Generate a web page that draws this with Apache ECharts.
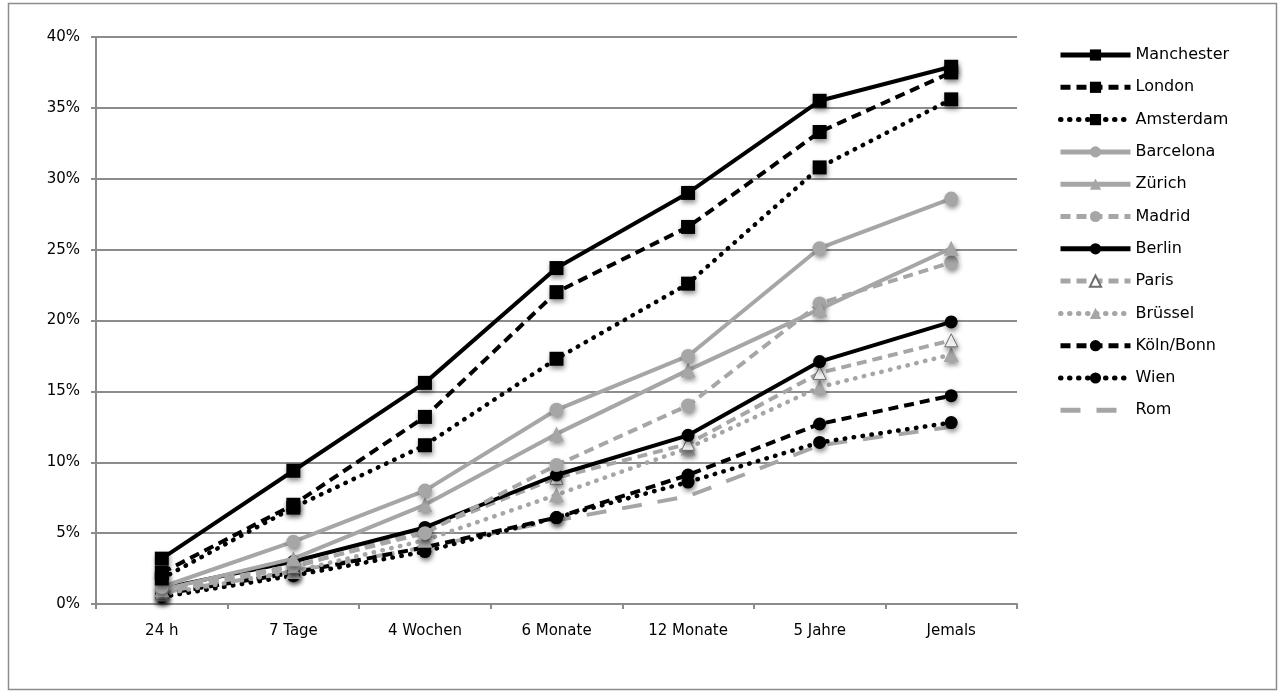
<!DOCTYPE html>
<html>
<head>
<meta charset="utf-8">
<script src="https://cdn.jsdelivr.net/npm/echarts@6/dist/echarts.min.js"></script>
<style>
  html, body { margin: 0; padding: 0; background: #fff; }
  #chart { width: 1281px; height: 695px; }
</style>
</head>
<body>
<div id="chart"></div>
<script>
// Zeiträume (x-Achse)
const categories = ['24 h', '7 Tage', '4 Wochen', '6 Monate', '12 Monate', '5 Jahre', 'Jemals'];

// Anteile in Prozent je Stadt
const manchester = [3.2, 9.4, 15.6, 23.7, 29.0, 35.5, 37.9];
const london     = [2.2, 7.0, 13.2, 22.0, 26.6, 33.3, 37.5];
const amsterdam  = [1.8, 6.8, 11.2, 17.3, 22.6, 30.8, 35.6];
const barcelona  = [1.2, 4.4, 8.0, 13.7, 17.5, 25.1, 28.6];
const zuerich    = [1.0, 3.2, 7.0, 12.0, 16.5, 20.8, 25.1];
const madrid     = [1.0, 2.7, 5.0, 9.8, 14.0, 21.2, 24.1];
const berlin     = [1.1, 3.0, 5.4, 9.1, 11.9, 17.1, 19.9];
const paris      = [0.8, 2.6, 5.2, 8.9, 11.3, 16.3, 18.6];
const bruessel   = [0.7, 2.3, 4.5, 7.7, 11.0, 15.3, 17.6];
const koelnBonn  = [0.7, 2.2, 4.0, 6.1, 9.1, 12.7, 14.7];
const wien       = [0.5, 2.0, 3.7, 6.1, 8.6, 11.4, 12.8];
const rom        = [0.8, 2.3, 4.0, 5.9, 7.6, 11.2, 12.5];

// y-Achse
const yTicks = [0, 5, 10, 15, 20, 25, 30, 35, 40];

const BLACK = '#000000';
const GREY = '#a6a6a6';
const FONT = '"DejaVu Sans", "Liberation Sans", sans-serif';

// Linienmuster
const SOLID = 'solid';
const DASH = [10, 6];
const DOT = [0.5, 8.5];
const LONG_DASH = [20, 16];

const markerShadow = {
  shadowBlur: 5,
  shadowOffsetX: 1,
  shadowOffsetY: 3,
  shadowColor: 'rgba(0,0,0,0.45)'
};

function makeSeries(name, data, color, dash, symbol, symbolSize, opts) {
  opts = opts || {};
  const dotted = dash === DOT;
  return {
    name: name,
    type: 'line',
    data: data,
    symbol: symbol,
    symbolSize: symbolSize,
    showSymbol: !opts.noMarker,
    z: opts.z || 2,
    lineStyle: {
      color: color,
      width: dotted ? 4.5 : 4,
      type: dash,
      cap: dotted ? 'round' : 'butt'
    },
    itemStyle: Object.assign({
      color: opts.fill || color,
      borderColor: opts.border || color,
      borderWidth: opts.borderWidth || 0,
      opacity: opts.noMarker ? 0 : 1
    }, markerShadow),
    emphasis: { disabled: true },
    animation: false
  };
}

const series = [
  makeSeries('Manchester', manchester, BLACK, SOLID, 'rect', 14, { z: 12 }),
  makeSeries('London', london, BLACK, DASH, 'rect', 14, { z: 11 }),
  makeSeries('Amsterdam', amsterdam, BLACK, DOT, 'rect', 14, { z: 10 }),
  makeSeries('Barcelona', barcelona, GREY, SOLID, 'circle', 14, { z: 9 }),
  makeSeries('Zürich', zuerich, GREY, SOLID, 'triangle', 15, { z: 8 }),
  makeSeries('Madrid', madrid, GREY, DASH, 'circle', 14, { z: 7 }),
  makeSeries('Berlin', berlin, BLACK, SOLID, 'circle', 13, { z: 6 }),
  makeSeries('Paris', paris, GREY, DASH, 'triangle', 13, { z: 5, fill: '#ffffff', border: '#6e6e6e', borderWidth: 1 }),
  makeSeries('Brüssel', bruessel, GREY, DOT, 'triangle', 15, { z: 4 }),
  makeSeries('Köln/Bonn', koelnBonn, BLACK, DASH, 'circle', 13, { z: 3 }),
  makeSeries('Wien', wien, BLACK, DOT, 'circle', 13, { z: 3 }),
  makeSeries('Rom', rom, GREY, LONG_DASH, 'circle', 1, { z: 2, noMarker: true })
];

const chart = echarts.init(document.getElementById('chart'), null, { renderer: 'canvas' });

chart.setOption({
  backgroundColor: '#ffffff',
  animation: false,
  textStyle: { fontFamily: FONT },
  graphic: [{
    type: 'rect',
    shape: { x: 8.5, y: 3.5, width: 1268, height: 686 },
    style: { fill: 'none', stroke: '#8c8c8c', lineWidth: 1.5 },
    silent: true
  }],
  grid: { left: 96, right: 264, top: 37, bottom: 91, containLabel: false },
  legend: {
    orient: 'vertical',
    left: 1058,
    top: 47,
    padding: 0,
    itemWidth: 70,
    itemHeight: 14,
    itemGap: 16.3,
    lineStyle: { width: 5 },
    textStyle: { fontSize: 16, color: '#000', fontFamily: FONT },
    selectedMode: false,
    data: series.map(s => s.name)
  },
  xAxis: {
    type: 'category',
    data: categories,
    boundaryGap: true,
    axisLine: { lineStyle: { color: '#8c8c8c', width: 2 } },
    axisTick: { show: true, inside: false, length: 5, alignWithLabel: false, lineStyle: { color: '#8c8c8c', width: 2 } },
    axisLabel: { color: '#000', fontSize: 15, margin: 20, fontFamily: FONT },
    splitLine: { show: false }
  },
  yAxis: {
    type: 'value',
    min: yTicks[0],
    max: yTicks[yTicks.length - 1],
    interval: yTicks[1] - yTicks[0],
    axisLine: { show: true, lineStyle: { color: '#8c8c8c', width: 2 } },
    axisTick: { show: true, length: 5, lineStyle: { color: '#8c8c8c', width: 2 } },
    axisLabel: { color: '#000', fontSize: 15, margin: 16, fontFamily: FONT, formatter: v => v + '%' },
    splitLine: { show: true, lineStyle: { color: '#8c8c8c', width: 2 } }
  },
  series: series
});
</script>
</body>
</html>
